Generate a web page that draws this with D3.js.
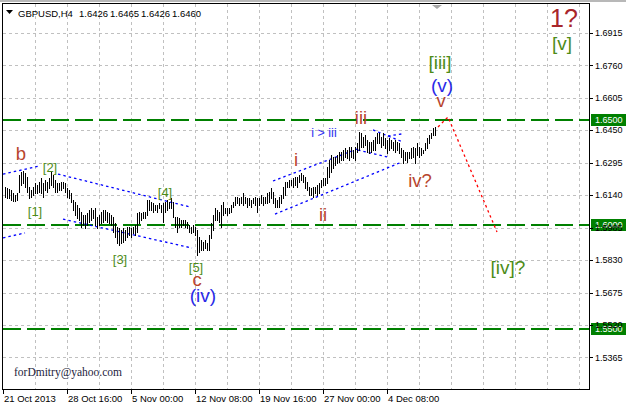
<!DOCTYPE html>
<html><head><meta charset="utf-8">
<script src="https://cdn.jsdelivr.net/npm/d3@7"></script>
<style>html,body{margin:0;padding:0;background:#fff;overflow:hidden}svg{display:block}</style>
</head><body>
<svg id="chart" width="626" height="408"></svg>
<script>
// ---------------- DATA ----------------
const symbolTitle = "GBPUSD,H4";
const lastBarOHLC = ["1.6426", "1.6465", "1.6426", "1.6460"];

const highs = [
1.6179,1.6175,1.6170,1.6165,1.6151,1.6141,1.6151,1.6237,1.6251,1.6256,
1.6246,1.6227,1.6179,1.6165,1.6179,1.6198,1.6189,1.6203,1.6222,1.6198,
1.6213,1.6203,1.6222,1.6251,1.6237,1.6213,1.6198,1.6198,1.6203,1.6203,
1.6198,1.6175,1.6165,1.6151,1.6117,1.6108,1.6093,1.6079,1.6060,1.6046,
1.6046,1.6055,1.6069,1.6079,1.6069,1.6079,1.6036,1.6046,1.6060,1.6069,
1.6069,1.6060,1.6055,1.6046,
1.6036,1.6007,1.5988,1.5983,1.5974,1.5983,1.5974,1.5988,1.5988,1.5983,
1.5988,1.5998,1.6055,1.6060,1.6055,1.6060,1.6060,1.6117,1.6117,1.6108,
1.6103,1.6093,1.6093,1.6103,1.6093,1.6103,1.6108,1.6117,1.6108,1.6127,
1.6108,1.6036,1.6036,1.6031,1.6022,1.6022,1.6022,1.6012,1.5998,1.5988,
1.5998,1.5988,1.5974,1.5940,1.5926,1.5917,1.5926,1.5912,1.5950,1.6007,
1.6046,1.6079,1.6069,1.6060,
1.6093,1.6108,1.6079,1.6079,1.6079,1.6093,1.6108,1.6132,1.6132,1.6127,
1.6132,1.6151,1.6132,1.6127,1.6127,1.6117,1.6127,1.6132,1.6127,1.6127,
1.6141,1.6132,1.6132,1.6151,1.6155,1.6175,1.6155,1.6127,1.6117,1.6132,
1.6141,1.6179,1.6203,1.6203,1.6213,1.6213,1.6222,1.6227,1.6227,1.6237,
1.6246,1.6237,1.6227,1.6203,1.6179,1.6175,1.6179,1.6179,1.6189,1.6198,
1.6213,1.6222,1.6222,1.6275,1.6308,1.6332,
1.6323,1.6323,1.6332,1.6347,1.6347,1.6356,1.6366,1.6356,1.6371,1.6371,
1.6356,1.6371,1.6390,1.6442,1.6437,1.6418,1.6428,1.6404,1.6394,1.6394,
1.6404,1.6418,1.6437,1.6437,1.6418,1.6437,1.6414,1.6404,1.6414,1.6404,
1.6394,1.6404,1.6394,1.6390,1.6366,1.6356,1.6347,1.6347,1.6347,1.6366,
1.6371,1.6366,1.6390,1.6371,1.6366,1.6356,1.6390,1.6414,1.6428,1.6437,
1.6461,1.6465
];
const lows = [
1.6132,1.6127,1.6127,1.6117,1.6112,1.6112,1.6117,1.6155,1.6189,1.6198,
1.6179,1.6155,1.6127,1.6132,1.6141,1.6151,1.6151,1.6155,1.6151,1.6132,
1.6165,1.6155,1.6175,1.6189,1.6179,1.6155,1.6155,1.6165,1.6165,1.6175,
1.6155,1.6132,1.6127,1.6108,1.6069,1.6046,1.6031,1.6022,1.5988,1.5998,
1.5983,1.5998,1.6012,1.6022,1.6031,1.5998,1.5983,1.5998,1.6007,1.6012,
1.6022,1.6012,1.6007,1.5998,
1.5964,1.5940,1.5912,1.5902,1.5912,1.5917,1.5926,1.5940,1.5950,1.5940,
1.5960,1.5950,1.5964,1.6007,1.6022,1.6031,1.6031,1.6046,1.6069,1.6069,
1.6060,1.6069,1.6060,1.6079,1.6060,1.6012,1.6060,1.6069,1.6079,1.6079,
1.6036,1.5988,1.5964,1.5988,1.5988,1.5998,1.5988,1.5983,1.5964,1.5960,
1.5964,1.5950,1.5854,1.5869,1.5878,1.5878,1.5888,1.5878,1.5878,1.5936,
1.5974,1.6022,1.6022,1.6012,
1.5988,1.6046,1.6055,1.6046,1.6055,1.6060,1.6084,1.6093,1.6103,1.6093,
1.6103,1.6093,1.6103,1.6084,1.6093,1.6084,1.6103,1.6093,1.6060,1.6093,
1.6103,1.6093,1.6103,1.6103,1.6108,1.6127,1.6103,1.6084,1.6084,1.6084,
1.6103,1.6127,1.6141,1.6179,1.6179,1.6189,1.6179,1.6189,1.6179,1.6203,
1.6213,1.6203,1.6175,1.6165,1.6141,1.6141,1.6132,1.6151,1.6141,1.6151,
1.6179,1.6189,1.6189,1.6198,1.6227,1.6251,
1.6270,1.6284,1.6294,1.6299,1.6308,1.6308,1.6323,1.6318,1.6308,1.6323,
1.6318,1.6308,1.6347,1.6356,1.6371,1.6371,1.6380,1.6347,1.6342,1.6347,
1.6356,1.6356,1.6390,1.6390,1.6371,1.6380,1.6366,1.6342,1.6356,1.6366,
1.6356,1.6347,1.6356,1.6342,1.6323,1.6294,1.6308,1.6299,1.6318,1.6318,
1.6323,1.6294,1.6332,1.6323,1.6332,1.6342,1.6356,1.6366,1.6390,1.6414,
1.6428,1.6426
];

const priceTicks = [1.5365,1.5520,1.5675,1.5830,1.5985,1.6140,1.6295,1.6450,1.6605,1.6760,1.6915];
const timeTickBars = [-1, 31, 63, 95, 127, 159, 191];
const timeTickLabels = ["21 Oct 2013","28 Oct 16:00","5 Nov 00:00","12 Nov 08:00","19 Nov 16:00","27 Nov 00:00","4 Dec 08:00"];
const levelPrices = [1.6500, 1.6000, 1.5500];

// trend lines as [barIndex, price] pairs
const channelLines = [
  [[-1, 1.6241], [17.5, 1.6280]],
  [[26.5, 1.6241], [92.5, 1.6084]],
  [[-1, 1.5936], [10, 1.5960]],
  [[29, 1.6026], [93.5, 1.5888]],
  [[134, 1.6208], [177.5, 1.6366]],
  [[135, 1.6050], [198.5, 1.6299]],
  [[184, 1.6452], [199, 1.6394]],
  [[191.5, 1.6423], [198.5, 1.6433]],
  [[176.5, 1.6356], [191, 1.6323]]
];
const forecastPath = [[216.5, 1.6466], [221.5, 1.6514], [246, 1.5965]];

// wave labels: text, bar index, price (baseline), kind
const waveLabels = [
  ["b", 8, 1.6308, "minor"],
  ["[2]", 22.5, 1.6251, "minute"],
  ["[1]", 15, 1.6041, "minute"],
  ["[3]", 57.5, 1.5812, "minute"],
  ["[4]", 80, 1.6132, "minute"],
  ["[5]", 95.5, 1.5772, "minute"],
  ["c", 96, 1.5705, "minor"],
  ["(iv)", 99, 1.5632, "minuette"],
  ["i", 145.5, 1.6280, "minor"],
  ["ii", 159, 1.6017, "minor"],
  ["iii", 178, 1.6480, "minor"],
  ["i > iii", 159.5, 1.6418, "note"],
  ["iv?", 207.5, 1.6179, "minor"],
  ["v", 218, 1.6560, "minor"],
  ["(v)", 218.5, 1.6635, "minuette"],
  ["[iii]", 217.5, 1.6743, "minuteBig"],
  ["1?", 279.5, 1.6944, "major"],
  ["[v]", 278.5, 1.6834, "minuteBig"],
  ["[iv]?", 251.5, 1.5764, "minuteBig"]
];
const signature = "forDmitry@yahoo.com";

// ---------------- STYLE / LAYOUT ----------------
const W = 626, H = 408;
const L = 3, R = 589, T = 4, B = 389;
const labelStyle = {
  minor:     {fill: "#b8452e", size: 18.5},
  major:     {fill: "#a8262a", size: 25},
  minute:    {fill: "#4e8c18", size: 13},
  minuteBig: {fill: "#4e8c18", size: 19},
  minuette:  {fill: "#2a2ae8", size: 19},
  note:      {fill: "#3030f0", size: 12.5}
};
const FONT = "Liberation Sans, Arial, sans-serif";

const svg = d3.select("#chart");
const x = d3.scaleLinear().domain([-1, 292]).range([L, R]);
const y = d3.scaleLinear().domain([1.52145, 1.70535]).range([B, T]);
const px = v => Math.round(v) + 0.5;

svg.append("rect").attr("width", W).attr("height", H).attr("fill", "#fff");

// top gray strip
svg.append("rect").attr("x", 0).attr("y", 0).attr("width", W).attr("height", 2).attr("fill", "#b8b8b8");

// grid
const grid = svg.append("g").attr("stroke", "#c0c0c0").attr("stroke-dasharray", "3,3")
  .attr("shape-rendering", "crispEdges");
grid.append("g").selectAll("line").data(priceTicks).join("line")
  .attr("x1", L).attr("x2", R).attr("y1", d => px(y(d))).attr("y2", d => px(y(d)));
grid.append("g").selectAll("line").data(d3.range(15, 292, 16)).join("line")
  .attr("x1", d => px(x(d))).attr("x2", d => px(x(d))).attr("y1", T).attr("y2", B);

// level lines
svg.append("g").selectAll("line").data(levelPrices).join("line")
  .attr("x1", L).attr("x2", R).attr("y1", d => Math.round(y(d))).attr("y2", d => Math.round(y(d)))
  .attr("stroke", "#008000").attr("stroke-width", 2).attr("stroke-dasharray", "18,6")
  .attr("shape-rendering", "crispEdges");

// channel lines
const lineGen = d3.line().x(d => x(d[0])).y(d => y(d[1]));
svg.append("g").selectAll("path").data(channelLines).join("path")
  .attr("d", lineGen).attr("fill", "none").attr("stroke", "#0000ff")
  .attr("stroke-width", 1.3).attr("stroke-dasharray", "2.5,3");

// forecast
svg.append("path").datum(forecastPath).attr("d", lineGen).attr("fill", "none")
  .attr("stroke", "#ff0000").attr("stroke-width", 1.3).attr("stroke-dasharray", "2.5,3");

// bars
svg.append("g").attr("shape-rendering", "crispEdges").selectAll("line").data(highs).join("line")
  .attr("x1", (d, i) => px(x(i))).attr("x2", (d, i) => px(x(i)))
  .attr("y1", d => Math.round(y(d))).attr("y2", (d, i) => Math.round(y(lows[i])) + 1)
  .attr("stroke", "#000");

// wave labels
svg.append("g").selectAll("text").data(waveLabels).join("text")
  .attr("x", d => x(d[1])).attr("y", d => y(d[2]))
  .attr("text-anchor", "middle")
  .attr("font-family", FONT)
  .attr("font-size", d => labelStyle[d[3]].size)
  .attr("fill", d => labelStyle[d[3]].fill)
  .text(d => d[0]);

// signature
svg.append("text").attr("x", 14).attr("y", 376).attr("font-family", "Liberation Serif, Times New Roman, serif")
  .attr("font-size", 11.5).attr("fill", "#1c1c3c").text(signature);

// frame
svg.append("rect").attr("x", L - 0.5).attr("y", T - 0.5).attr("width", R - L + 0.5).attr("height", B - T + 1)
  .attr("fill", "none").attr("stroke", "#000").attr("shape-rendering", "crispEdges");

// shift marker
svg.append("path").attr("d", `M${x(213.5)},${T + 1}L${x(218.5)},${T + 1}L${x(216)},${T + 5}Z`).attr("fill", "#a8a8a8");

// level labels (green boxes)
const lvl = svg.append("g");
lvl.selectAll("rect").data(levelPrices).join("rect")
  .attr("x", R + 2).attr("y", d => Math.round(y(d)) - 6).attr("width", W - R - 2).attr("height", 12)
  .attr("fill", "#008000");
lvl.selectAll("text").data(levelPrices).join("text")
  .attr("x", R + 6).attr("y", d => y(d)).attr("dy", "0.35em")
  .attr("font-family", FONT).attr("font-size", 9)
  .attr("fill", "#fff").text(d => d.toFixed(4));

// price axis
const yAxis = svg.append("g");
yAxis.selectAll("line").data(priceTicks).join("line")
  .attr("x1", R).attr("x2", R + 4).attr("y1", d => px(y(d))).attr("y2", d => px(y(d)))
  .attr("stroke", "#000").attr("shape-rendering", "crispEdges");
yAxis.selectAll("text").data(priceTicks).join("text")
  .attr("x", R + 6).attr("y", d => y(d)).attr("dy", "0.35em")
  .attr("font-family", FONT).attr("font-size", 9)
  .attr("fill", "#000").text(d => d.toFixed(4));

// time axis
const xAxis = svg.append("g");
xAxis.selectAll("line").data(timeTickBars).join("line")
  .attr("x1", d => px(x(d))).attr("x2", d => px(x(d))).attr("y1", B).attr("y2", B + 5)
  .attr("stroke", "#000").attr("shape-rendering", "crispEdges");
xAxis.selectAll("text").data(timeTickLabels).join("text")
  .attr("x", (d, i) => x(timeTickBars[i]) + 1).attr("y", B + 13)
  .attr("font-family", FONT).attr("font-size", 9.5)
  .attr("fill", "#000").text(d => d);

// title
svg.append("path").attr("d", "M6,10L13,10L9.5,14Z").attr("fill", "#000");
const titleParts = [symbolTitle].concat(lastBarOHLC);
const titleX = [18, 79, 110, 141, 172];
svg.append("g").selectAll("text").data(titleParts).join("text")
  .attr("x", (d, i) => titleX[i]).attr("y", 16.5)
  .attr("font-family", FONT).attr("font-size", 9.5).attr("fill", "#000")
  .text(d => d);
</script>
</body></html>
